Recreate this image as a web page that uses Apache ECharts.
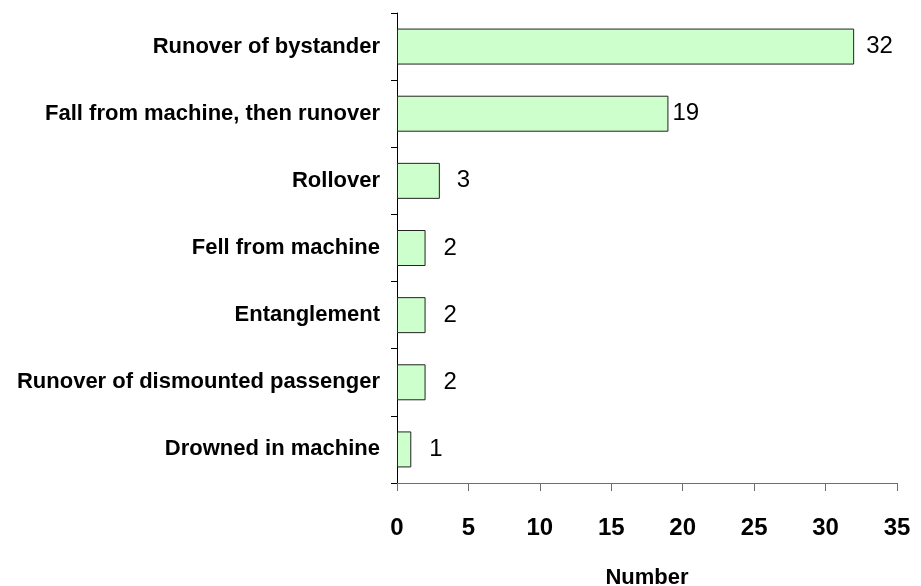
<!DOCTYPE html>
<html>
<head>
<meta charset="utf-8">
<script src="https://cdn.jsdelivr.net/npm/echarts@6/dist/echarts.min.js"></script>
<style>html,body{margin:0;padding:0;background:#fff}#c{width:921px;height:586px}</style>
</head>
<body>
<div id="c"></div>
<script>
// Categories listed bottom to top
const categories = [
  "Drowned in machine",
  "Runover of dismounted passenger",
  "Entanglement",
  "Fell from machine",
  "Rollover",
  "Fall from machine, then runover",
  "Runover of bystander"
];
const values = [1, 2, 2, 2, 3, 19, 32];
const xMin = 0, xMax = 35, xInterval = 5;
const xAxisTitle = "Number";

// label spacing (style only), matching the hand-placed labels in the original
const labelGap = [18, 18, 18, 18, 17, 4, 12];

const chart = echarts.init(document.getElementById('c'), null, {renderer: 'canvas'});
chart.setOption({
  animation: false,
  backgroundColor: '#ffffff',
  grid: {left: 397, right: 24, top: 13, bottom: 103, containLabel: false, outerBoundsMode: 'none'},
  xAxis: {
    type: 'value', min: xMin, max: xMax, interval: xInterval,
    name: xAxisTitle, nameLocation: 'middle', nameGap: 84,
    nameTextStyle: {fontFamily: 'Liberation Sans, Arial', fontWeight: 'bold', fontSize: 22, color: '#000'},
    axisLine: {show: true, lineStyle: {color: '#6e6e6e', width: 1}},
    axisTick: {show: true, length: 8, inside: false, lineStyle: {color: '#6e6e6e'}},
    splitLine: {show: false},
    axisLabel: {margin: 33, fontFamily: 'Liberation Sans, Arial', fontWeight: 'bold', fontSize: 24, color: '#000'}
  },
  yAxis: {
    type: 'category', data: categories,
    axisLine: {show: true, lineStyle: {color: '#000', width: 1}},
    axisTick: {show: true, length: 6, alignWithLabel: false, lineStyle: {color: '#000'}},
    axisLabel: {margin: 17, fontFamily: 'Liberation Sans, Arial', fontWeight: 'bold', fontSize: 22, color: '#000'},
    splitLine: {show: false}
  },
  series: [{
    type: 'bar',
    data: values.map((v, i) => ({value: v, label: {distance: labelGap[i]}})),
    barWidth: 36,
    itemStyle: {color: '#CCFFCC', borderColor: '#222', borderWidth: 1},
    label: {show: true, position: 'right', distance: 12, fontFamily: 'Liberation Sans, Arial', fontSize: 24, color: '#000'}
  }]
});
</script>
</body>
</html>
